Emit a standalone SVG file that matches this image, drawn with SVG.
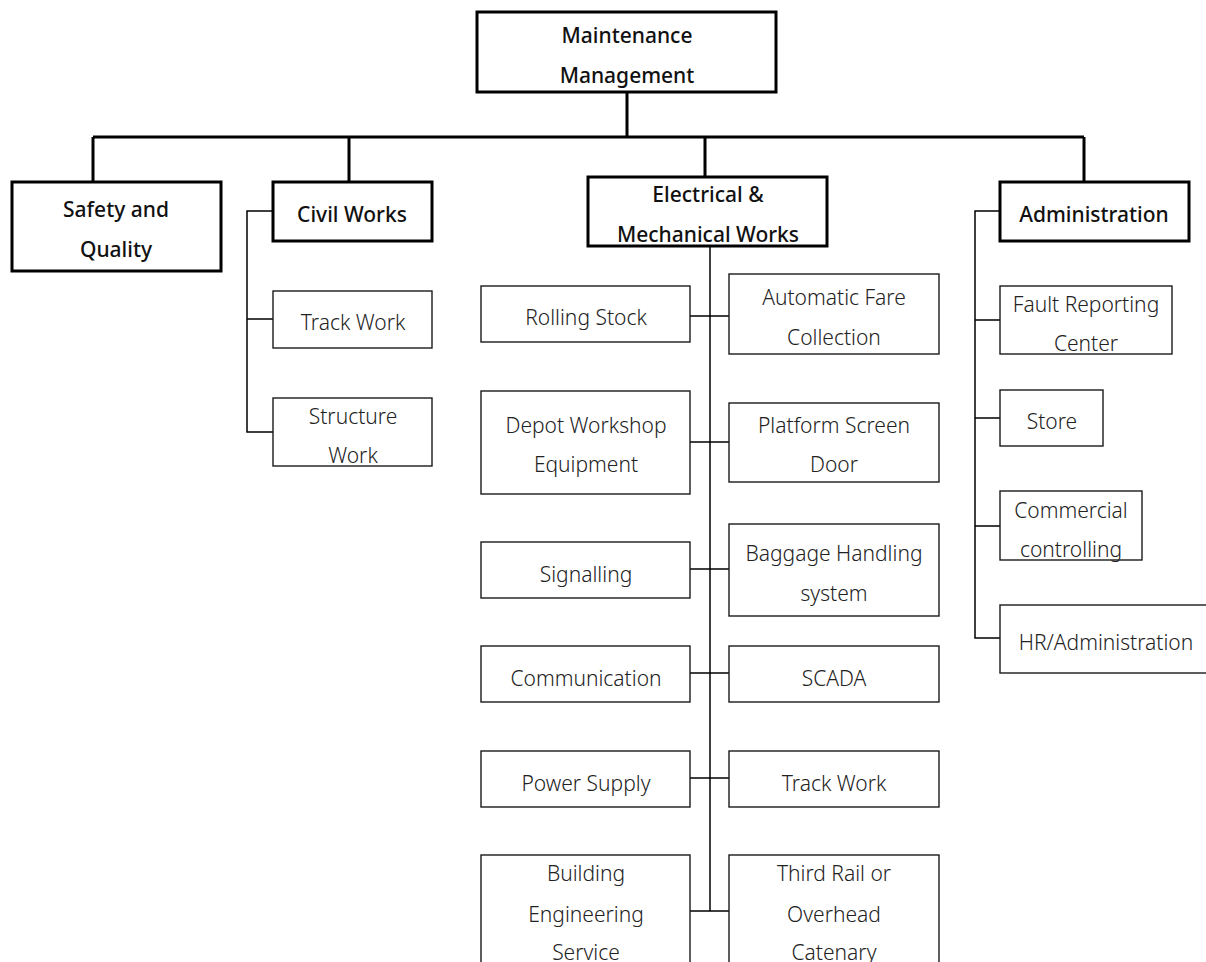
<svg xmlns="http://www.w3.org/2000/svg" width="1206" height="962" viewBox="0 0 1206 962">
  <style>
    .bg { fill: #ffffff; }
    .box-main { fill: #ffffff; stroke: #000000; stroke-width: 3; }
    .box-sub { fill: #ffffff; stroke: #1a1a1a; stroke-width: 1.4; }
    .bus { fill: none; stroke: #000000; stroke-width: 3; }
    .link { fill: none; stroke: #000000; stroke-width: 1.5; }
    text { font-family: "Noto Sans", "Open Sans", sans-serif; font-size: 21px; text-anchor: middle; }
    .t-main { font-weight: 500; fill: #111111; }
    .t-sub { font-weight: 300; fill: #222222; }
  </style>

  <rect class="bg" x="0" y="0" width="1206" height="962"/>

  <!-- connectors -->
  <g id="connectors">
    <!-- top level bus -->
    <path class="bus" d="M627 92 V137 M93 137 H1084 M93 137 V182 M349 137 V182 M705 137 V177 M1084 137 V182"/>
    <!-- civil works branch -->
    <path class="link" d="M273 211 H247 V432 H273 M247 319 H273"/>
    <!-- electrical & mechanical branch -->
    <path class="link" d="M710 246 V911"/>
    <path class="link" d="M690 316 H729 M690 442 H729 M690 569 H729 M690 673 H729 M690 778 H729 M690 911 H729"/>
    <!-- administration branch -->
    <path class="link" d="M1000 211 H975 V638 H1000 M975 320 H1000 M975 418 H1000 M975 526 H1000"/>
  </g>

  <!-- top node -->
  <g id="maintenance-management">
    <rect class="box-main" x="477" y="12" width="299" height="80"/>
    <text class="t-main" x="627" y="43">Maintenance</text>
    <text class="t-main" x="627" y="83">Management</text>
  </g>

  <!-- departments -->
  <g id="safety-quality">
    <rect class="box-main" x="12" y="182" width="209" height="89"/>
    <text class="t-main" x="116" y="217">Safety and</text>
    <text class="t-main" x="116" y="257">Quality</text>
  </g>
  <g id="civil-works">
    <rect class="box-main" x="273" y="182" width="159" height="59"/>
    <text class="t-main" x="352" y="222">Civil Works</text>
  </g>
  <g id="electrical-mechanical">
    <rect class="box-main" x="588" y="177" width="239" height="69"/>
    <text class="t-main" x="708" y="202">Electrical &amp;</text>
    <text class="t-main" x="708" y="242">Mechanical Works</text>
  </g>
  <g id="administration">
    <rect class="box-main" x="1000" y="182" width="189" height="59"/>
    <text class="t-main" x="1094" y="222">Administration</text>
  </g>

  <!-- civil works units -->
  <g id="civil-track-work">
    <rect class="box-sub" x="273" y="291" width="159" height="57"/>
    <text class="t-sub" x="353" y="330">Track Work</text>
  </g>
  <g id="structure-work">
    <rect class="box-sub" x="273" y="398" width="159" height="68"/>
    <text class="t-sub" x="353" y="424">Structure</text>
    <text class="t-sub" x="353" y="463">Work</text>
  </g>

  <!-- electrical & mechanical units, left column -->
  <g id="rolling-stock">
    <rect class="box-sub" x="481" y="286" width="209" height="56"/>
    <text class="t-sub" x="586" y="325">Rolling Stock</text>
  </g>
  <g id="depot-workshop">
    <rect class="box-sub" x="481" y="391" width="209" height="103"/>
    <text class="t-sub" x="586" y="433">Depot Workshop</text>
    <text class="t-sub" x="586" y="472">Equipment</text>
  </g>
  <g id="signalling">
    <rect class="box-sub" x="481" y="542" width="209" height="56"/>
    <text class="t-sub" x="586" y="582">Signalling</text>
  </g>
  <g id="communication">
    <rect class="box-sub" x="481" y="646" width="209" height="56"/>
    <text class="t-sub" x="586" y="686">Communication</text>
  </g>
  <g id="power-supply">
    <rect class="box-sub" x="481" y="751" width="209" height="56"/>
    <text class="t-sub" x="586" y="791">Power Supply</text>
  </g>
  <g id="building-engineering">
    <rect class="box-sub" x="481" y="855" width="209" height="120"/>
    <text class="t-sub" x="586" y="881">Building</text>
    <text class="t-sub" x="586" y="922">Engineering</text>
    <text class="t-sub" x="586" y="960">Service</text>
  </g>

  <!-- electrical & mechanical units, right column -->
  <g id="automatic-fare">
    <rect class="box-sub" x="729" y="274" width="210" height="80"/>
    <text class="t-sub" x="834" y="305">Automatic Fare</text>
    <text class="t-sub" x="834" y="345">Collection</text>
  </g>
  <g id="platform-screen-door">
    <rect class="box-sub" x="729" y="403" width="210" height="79"/>
    <text class="t-sub" x="834" y="433">Platform Screen</text>
    <text class="t-sub" x="834" y="472">Door</text>
  </g>
  <g id="baggage-handling">
    <rect class="box-sub" x="729" y="524" width="210" height="92"/>
    <text class="t-sub" x="834" y="561">Baggage Handling</text>
    <text class="t-sub" x="834" y="601">system</text>
  </g>
  <g id="scada">
    <rect class="box-sub" x="729" y="646" width="210" height="56"/>
    <text class="t-sub" x="834" y="686">SCADA</text>
  </g>
  <g id="em-track-work">
    <rect class="box-sub" x="729" y="751" width="210" height="56"/>
    <text class="t-sub" x="834" y="791">Track Work</text>
  </g>
  <g id="third-rail">
    <rect class="box-sub" x="729" y="855" width="210" height="120"/>
    <text class="t-sub" x="834" y="881">Third Rail or</text>
    <text class="t-sub" x="834" y="922">Overhead</text>
    <text class="t-sub" x="834" y="960">Catenary</text>
  </g>

  <!-- administration units -->
  <g id="fault-reporting">
    <rect class="box-sub" x="1000" y="286" width="172" height="68"/>
    <text class="t-sub" x="1086" y="312">Fault Reporting</text>
    <text class="t-sub" x="1086" y="351">Center</text>
  </g>
  <g id="store">
    <rect class="box-sub" x="1000" y="390" width="103" height="56"/>
    <text class="t-sub" x="1052" y="429">Store</text>
  </g>
  <g id="commercial-controlling">
    <rect class="box-sub" x="1000" y="491" width="142" height="69"/>
    <text class="t-sub" x="1071" y="518">Commercial</text>
    <text class="t-sub" x="1071" y="557">controlling</text>
  </g>
  <g id="hr-administration">
    <rect class="box-sub" x="1000" y="605" width="220" height="68"/>
    <text class="t-sub" x="1106" y="650">HR/Administration</text>
  </g>
</svg>
